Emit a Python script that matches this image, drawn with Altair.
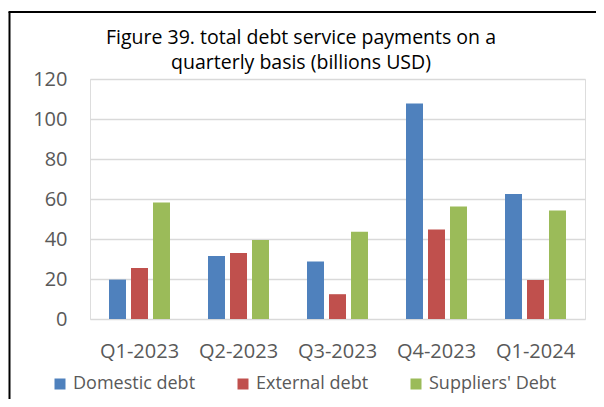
import altair as alt
import pandas as pd

quarters = ["Q1-2023", "Q2-2023", "Q3-2023", "Q4-2023", "Q1-2024"]
series = ["Domestic debt", "External debt", "Suppliers' Debt"]
domestic = [19.7, 31.5, 28.8, 107.8, 62.5]
external = [25.5, 33.0, 12.4, 44.8, 19.5]
suppliers = [58.3, 39.5, 43.6, 56.2, 54.2]
colors = ["#4F81BD", "#C0504D", "#9BBB59"]
title_lines = ["Figure 39. total debt service payments on a", "quarterly basis (billions USD)"]

rows = []
for name, vals in zip(series, [domestic, external, suppliers]):
    for q, v in zip(quarters, vals):
        rows.append({"quarter": q, "series": name, "value": v})
df = pd.DataFrame(rows)

FONT = "Open Sans"

bars = alt.Chart(df).mark_bar().encode(
    x=alt.X("quarter:N", sort=quarters, title=None,
            scale=alt.Scale(paddingInner=0, paddingOuter=0),
            axis=alt.Axis(labelAngle=0, ticks=False, domain=False, grid=False,
                          labelFontSize=20, labelColor="#595959", labelFont=FONT,
                          labelPadding=22)),
    xOffset=alt.XOffset("series:N", sort=series,
                        scale=alt.Scale(paddingInner=0.2273, paddingOuter=0.864)),
    y=alt.Y("value:Q", title=None,
            scale=alt.Scale(domain=[0, 120], nice=False),
            axis=alt.Axis(values=[0, 20, 40, 60, 80, 100, 120], ticks=False, domain=False,
                          gridColor="#D9D9D9", gridWidth=1.5,
                          labelFontSize=20, labelColor="#595959", labelFont=FONT,
                          labelPadding=23)),
    color=alt.Color("series:N", sort=series,
                    scale=alt.Scale(domain=series, range=colors),
                    legend=alt.Legend(title=None, orient="none", direction="horizontal",
                                      legendX=-39, legendY=296,
                                      symbolType="square", symbolSize=121,
                                      symbolStrokeWidth=0,
                                      labelFontSize=18, labelColor="#595959", labelFont=FONT,
                                      labelOffset=4, columnPadding=38)),
)

title_df = pd.DataFrame({"line": title_lines, "row": [0, 1]})
title = alt.Chart(title_df).mark_text(font=FONT, fontSize=19.5, color="#000000",
                                      align="center", baseline="middle").encode(
    text="line:N",
    x=alt.value(211),
    y=alt.Y("row:Q", axis=None, scale=alt.Scale(domain=[0, 1], range=[-41, -16], nice=False, zero=False)),
)

border_df = pd.DataFrame({"k": [0]})
left_border = alt.Chart(border_df).mark_rule(color="#000000", strokeWidth=2).encode(
    x=alt.value(-80.5), y=alt.value(-67), y2=alt.value(400))
top_border = alt.Chart(border_df).mark_rule(color="#000000", strokeWidth=2).encode(
    x=alt.value(-81.5), x2=alt.value(600), y=alt.value(-67))

chart = alt.layer(bars, title, left_border, top_border).resolve_scale(y="independent").properties(
    width=495, height=240,
    autosize=alt.AutoSizeParams(type="none"),
    padding={"left": 82, "top": 71, "right": 11, "bottom": 80},
).configure_view(stroke=None).configure(background="white")

chart.save("out.html", embed_options={"renderer": "svg", "actions": False})
